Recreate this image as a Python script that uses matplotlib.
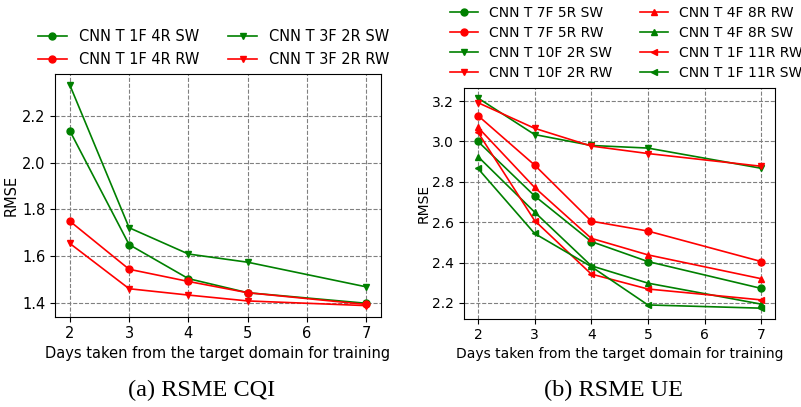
import numpy as np
import matplotlib
matplotlib.use('Agg')
import matplotlib.pyplot as plt

# data
days = [2, 3, 4, 5, 7]

cqi_labels = ['CNN T 1F 4R SW', 'CNN T 1F 4R RW', 'CNN T 3F 2R SW', 'CNN T 3F 2R RW']
cqi_1f4r_sw = [2.135, 1.650, 1.505, 1.445, 1.400]
cqi_1f4r_rw = [1.750, 1.545, 1.493, 1.445, 1.395]
cqi_3f2r_sw = [2.330, 1.722, 1.610, 1.575, 1.470]
cqi_3f2r_rw = [1.655, 1.462, 1.435, 1.410, 1.390]

ue_labels = ['CNN T 7F 5R SW', 'CNN T 7F 5R RW', 'CNN T 10F 2R SW', 'CNN T 10F 2R RW',
             'CNN T 4F 8R RW', 'CNN T 4F 8R SW', 'CNN T 1F 11R RW', 'CNN T 1F 11R SW']
ue_7f5r_sw = [3.000, 2.730, 2.504, 2.405, 2.272]
ue_7f5r_rw = [3.128, 2.883, 2.605, 2.556, 2.405]
ue_10f2r_sw = [3.215, 3.034, 2.980, 2.967, 2.867]
ue_10f2r_rw = [3.192, 3.065, 2.977, 2.940, 2.877]
ue_4f8r_rw = [3.070, 2.772, 2.520, 2.438, 2.320]
ue_4f8r_sw = [2.925, 2.650, 2.384, 2.298, 2.194]
ue_1f11r_rw = [3.045, 2.608, 2.343, 2.269, 2.215]
ue_1f11r_sw = [2.866, 2.544, 2.380, 2.190, 2.174]

fig = plt.figure(figsize=(8.01, 4.07), dpi=100)


def style_axes(ax, fs, ypad):
    ax.grid(True, linestyle='--', color='gray', linewidth=0.8)
    ax.set_xticks([2, 3, 4, 5, 6, 7])
    ax.tick_params(labelsize=fs)
    ax.set_xlabel('Days taken from the target domain for training', fontsize=fs, labelpad=3)
    ax.set_ylabel('RMSE', fontsize=fs, labelpad=ypad)


# (a) CQI
fs = 10.5
ax1 = fig.add_axes([0.0687, 0.222, 0.407, 0.596])
series = [(cqi_1f4r_sw, 'green', 'o'), (cqi_1f4r_rw, 'red', 'o'),
          (cqi_3f2r_sw, 'green', 'v'), (cqi_3f2r_rw, 'red', 'v')]
for (y, c, m), lab in zip(series, cqi_labels):
    ax1.plot(days, y, color=c, marker=m, markersize=5, linewidth=1.2, label=lab)
style_axes(ax1, fs, 2)
ax1.set_yticks([1.4, 1.6, 1.8, 2.0, 2.2])
ax1.legend(loc='lower left', bbox_to_anchor=(0.040, 0.822), bbox_transform=fig.transFigure,
           ncol=2, frameon=False, fontsize=fs, borderaxespad=0)

# (b) UE
fs2 = 10
ax2 = fig.add_axes([0.579, 0.217, 0.389, 0.568])
series = [(ue_7f5r_sw, 'green', 'o'), (ue_7f5r_rw, 'red', 'o'),
          (ue_10f2r_sw, 'green', 'v'), (ue_10f2r_rw, 'red', 'v'),
          (ue_4f8r_rw, 'red', '^'), (ue_4f8r_sw, 'green', '^'),
          (ue_1f11r_rw, 'red', '<'), (ue_1f11r_sw, 'green', '<')]
for (y, c, m), lab in zip(series, ue_labels):
    ax2.plot(days, y, color=c, marker=m, markersize=5, linewidth=1.2, label=lab)
style_axes(ax2, fs2, 1)
ax2.set_yticks([2.2, 2.4, 2.6, 2.8, 3.0, 3.2])
ax2.legend(loc='lower left', bbox_to_anchor=(0.555, 0.789), bbox_transform=fig.transFigure,
           ncol=2, frameon=False, fontsize=fs2, borderaxespad=0, labelspacing=0.45)

# captions
cap = dict(fontsize=17.5, family='Liberation Serif', ha='center', va='center')
fig.text(202 / 801, 1 - 390 / 407, '(a) RSME CQI', **cap)
fig.text(613 / 801, 1 - 390 / 407, '(b) RSME UE', **cap)

fig.savefig('out.png', dpi=100)
